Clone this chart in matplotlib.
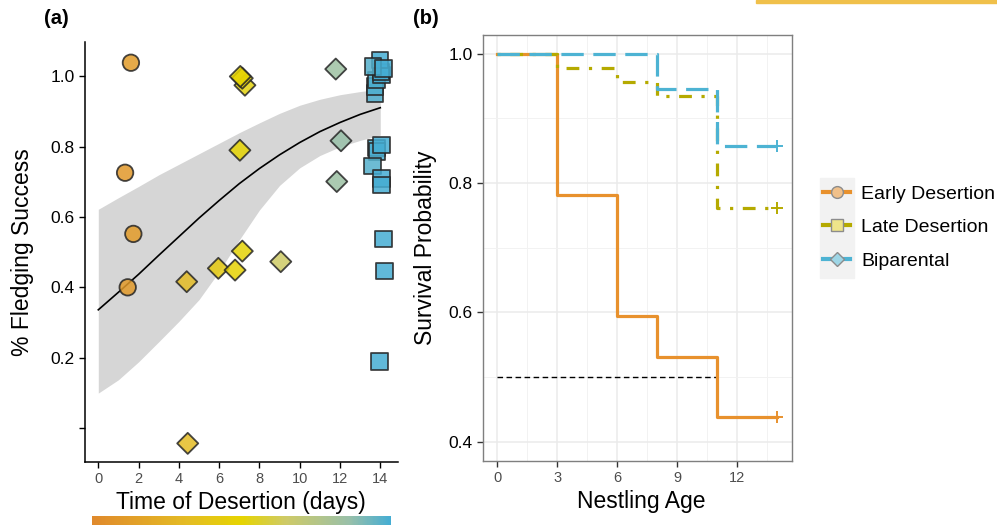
import matplotlib
matplotlib.use('Agg')
import matplotlib.pyplot as plt
from matplotlib.colors import LinearSegmentedColormap, Normalize
from matplotlib.lines import Line2D
from matplotlib.patches import Rectangle
import matplotlib.cm as cm

plt.rcParams['font.family'] = ['Liberation Sans', 'DejaVu Sans']

# panel (a): fledging success vs time of desertion
EARLY_DAYS = [1.62, 1.33, 1.74, 1.46]
EARLY_SUCCESS = [1.039, 0.726, 0.552, 0.400]

LATE_DAYS = [7.28, 7.15, 7.05, 7.03, 4.39, 5.96, 6.79, 7.15, 9.06, 4.44, 11.79, 12.05, 11.84]
LATE_SUCCESS = [0.975, 0.995, 1.000, 0.790, 0.416, 0.454, 0.449, 0.503, 0.473, -0.044, 1.021, 0.817, 0.701]

BIP_DAYS = [13.74, 13.74, 13.82, 14.07, 14.05, 13.99, 13.65, 14.15,
            13.82, 13.85, 14.07, 13.62, 14.07, 14.07, 14.15, 14.20, 13.97]
BIP_SUCCESS = [0.952, 0.971, 0.990, 1.004, 1.012, 1.047, 1.028, 1.023,
               0.796, 0.786, 0.805, 0.745, 0.710, 0.691, 0.538, 0.446, 0.189]

FIT_DAYS = [0, 1, 2, 3, 4, 5, 6, 7, 8, 9, 10, 11, 12, 13, 14]
FIT_MEAN = [0.336, 0.386, 0.437, 0.491, 0.544, 0.597, 0.647, 0.695, 0.738, 0.777, 0.812, 0.843, 0.869, 0.892, 0.911]
FIT_LOW = [0.099, 0.137, 0.188, 0.245, 0.303, 0.365, 0.445, 0.535, 0.620, 0.690, 0.740, 0.775, 0.800, 0.818, 0.833]
FIT_HIGH = [0.622, 0.655, 0.687, 0.720, 0.750, 0.780, 0.810, 0.840, 0.868, 0.895, 0.918, 0.935, 0.948, 0.957, 0.964]

# panel (b): Kaplan-Meier survival
EARLY_T = [0, 3, 6, 8, 11, 14]
EARLY_S = [1.0, 0.781, 0.594, 0.531, 0.4375, 0.4375]
LATE_T = [0, 3, 6, 8, 11, 14]
LATE_S = [1.0, 0.978, 0.957, 0.935, 0.761, 0.761]
BIP_T = [0, 8, 11, 14]
BIP_S = [1.0, 0.946, 0.857, 0.857]
MEDIAN_LEVEL = 0.5
MEDIAN_END = 11

GROUPS = ['Early Desertion', 'Late Desertion', 'Biparental']

ORANGE = '#E8912D'
OLIVE = '#B5AA00'
BLUE = '#4DB3D3'

cmap = LinearSegmentedColormap.from_list('desertion', [
    (0.0, '#E0892C'), (0.32, '#E4BC24'), (0.5, '#E6D400'),
    (0.65, '#CECA67'), (0.86, '#9AC0A8'), (1.0, '#45ADD3')])
norm = Normalize(0, 14)

fig = plt.figure(figsize=(9.97, 5.25), dpi=100)

# ---- panel (a)
ax1 = fig.add_axes([85 / 997, 1 - 462 / 525, 313 / 997, 420 / 525])
ax1.fill_between(FIT_DAYS, FIT_LOW, FIT_HIGH, color='#D6D6D6', lw=0, zorder=1)
ax1.plot(FIT_DAYS, FIT_MEAN, color='black', lw=1.2, zorder=2)

pt_kw = dict(cmap=cmap, norm=norm, alpha=0.85, edgecolors='#262626', linewidths=1.3, zorder=3)
ax1.scatter(EARLY_DAYS, EARLY_SUCCESS, c=EARLY_DAYS, marker='o', s=140, **pt_kw)
ax1.scatter(LATE_DAYS, LATE_SUCCESS, c=LATE_DAYS, marker='D', s=115, **pt_kw)
ax1.scatter(BIP_DAYS, BIP_SUCCESS, c=BIP_DAYS, marker='s', s=140, **pt_kw)

ax1.set_xlim(-0.66, 14.88)
ax1.set_ylim(-0.097, 1.098)
ax1.set_xticks([0, 2, 4, 6, 8, 10, 12, 14])
ax1.set_yticks([0.0, 0.2, 0.4, 0.6, 0.8, 1.0])
ax1.set_yticklabels(['', '0.2', '0.4', '0.6', '0.8', '1.0'])
ax1.tick_params(axis='y', labelsize=12.5, labelcolor='black', length=4, width=1)
ax1.tick_params(axis='x', labelsize=10.5, labelcolor='#4D4D4D', length=4, width=1)
for side in ['top', 'right']:
    ax1.spines[side].set_visible(False)
for side in ['left', 'bottom']:
    ax1.spines[side].set_linewidth(1.1)
ax1.set_ylabel('% Fledging Success', fontsize=16.5, va='center')
ax1.yaxis.set_label_coords(-0.20, 0.5)
ax1.set_xlabel('Time of Desertion (days)', fontsize=16.5, va='center')
ax1.xaxis.set_label_coords(0.498, -0.097)

# colour scale under panel (a)
cax = fig.add_axes([91.7 / 997, 0, 299 / 997, 9 / 525])
cb = fig.colorbar(cm.ScalarMappable(norm=norm, cmap=cmap), cax=cax, orientation='horizontal')
cb.outline.set_visible(False)
cb.set_ticks([])

# ---- panel (b)
ax2 = fig.add_axes([483.3 / 997, 1 - 461 / 525, 308.4 / 997, 426 / 525])
ax2.step(EARLY_T, EARLY_S, where='post', color=ORANGE, lw=2.3, zorder=3)
ax2.step(LATE_T, LATE_S, where='post', color=OLIVE, lw=2.3, ls=(0, (1, 3, 4, 3)), zorder=4)
ax2.step(BIP_T, BIP_S, where='post', color=BLUE, lw=2.3, ls=(0, (7, 3)), zorder=5)
for t, s, col in [(EARLY_T, EARLY_S, ORANGE), (LATE_T, LATE_S, OLIVE), (BIP_T, BIP_S, BLUE)]:
    ax2.plot(t[-1], s[-1], marker='+', ms=9, mew=1.4, color=col, zorder=6)
ax2.hlines(MEDIAN_LEVEL, 0, MEDIAN_END, color='black', lw=1.0, ls=(0, (4, 2.5)), zorder=2)

ax2.set_xlim(-0.7, 14.72)
ax2.set_ylim(0.370, 1.029)
ax2.set_xticks([0, 3, 6, 9, 12])
ax2.set_xticks([1.5, 4.5, 7.5, 10.5, 13.5], minor=True)
ax2.set_yticks([0.4, 0.6, 0.8, 1.0])
ax2.set_yticks([0.5, 0.7, 0.9], minor=True)
ax2.grid(which='major', color='#EBEBEB', lw=1.1, zorder=0)
ax2.grid(which='minor', color='#F2F2F2', lw=0.7, zorder=0)
ax2.set_axisbelow(True)
ax2.tick_params(which='minor', length=0)
ax2.tick_params(axis='y', labelsize=12.5, labelcolor='black', length=4, width=1, color='#333333')
ax2.tick_params(axis='x', labelsize=10.5, labelcolor='#4D4D4D', length=4, width=1, color='#333333')
for side in ax2.spines:
    ax2.spines[side].set_color('#7F7F7F')
    ax2.spines[side].set_linewidth(1.0)
ax2.set_ylabel('Survival Probability', fontsize=16.5, va='center')
ax2.yaxis.set_label_coords(-0.186, 0.5)
ax2.set_xlabel('Nestling Age', fontsize=16.5, va='center')
ax2.xaxis.set_label_coords(0.511, -0.0955)

# legend
handles = [
    Line2D([], [], color=ORANGE, lw=3, marker='o', ms=8.5, mfc='#F0C08A', mec='#8C8C8C', mew=1),
    Line2D([], [], color=OLIVE, lw=3, marker='s', ms=8, mfc='#EEE48A', mec='#8C8C8C', mew=1),
    Line2D([], [], color=BLUE, lw=3, marker='D', ms=7.5, mfc='#9ED6E6', mec='#8C8C8C', mew=1),
]
fig.patches.append(Rectangle((820 / 997, 1 - 278 / 525), 34 / 997, 100 / 525,
                             transform=fig.transFigure, color='#F2F2F2', zorder=0))
fig.legend(handles, GROUPS, loc='upper left', bbox_to_anchor=(823 / 997, 1 - 185 / 525),
           frameon=False, fontsize=14, handlelength=1.4, handletextpad=0.55,
           labelspacing=0.82, borderpad=0, borderaxespad=0)

# panel tags
fig.text(44 / 997, 1 - 18 / 525, '(a)', fontsize=14.5, fontweight='bold', va='center')
fig.text(413 / 997, 1 - 18 / 525, '(b)', fontsize=14.5, fontweight='bold', va='center')

# cropped rule from the source figure at the top right
fig.patches.append(Rectangle((756 / 997, 1 - 3 / 525), 241 / 997, 3 / 525,
                             transform=fig.transFigure, color='#F0C04A', zorder=0))

fig.savefig('out.png', dpi=100)
